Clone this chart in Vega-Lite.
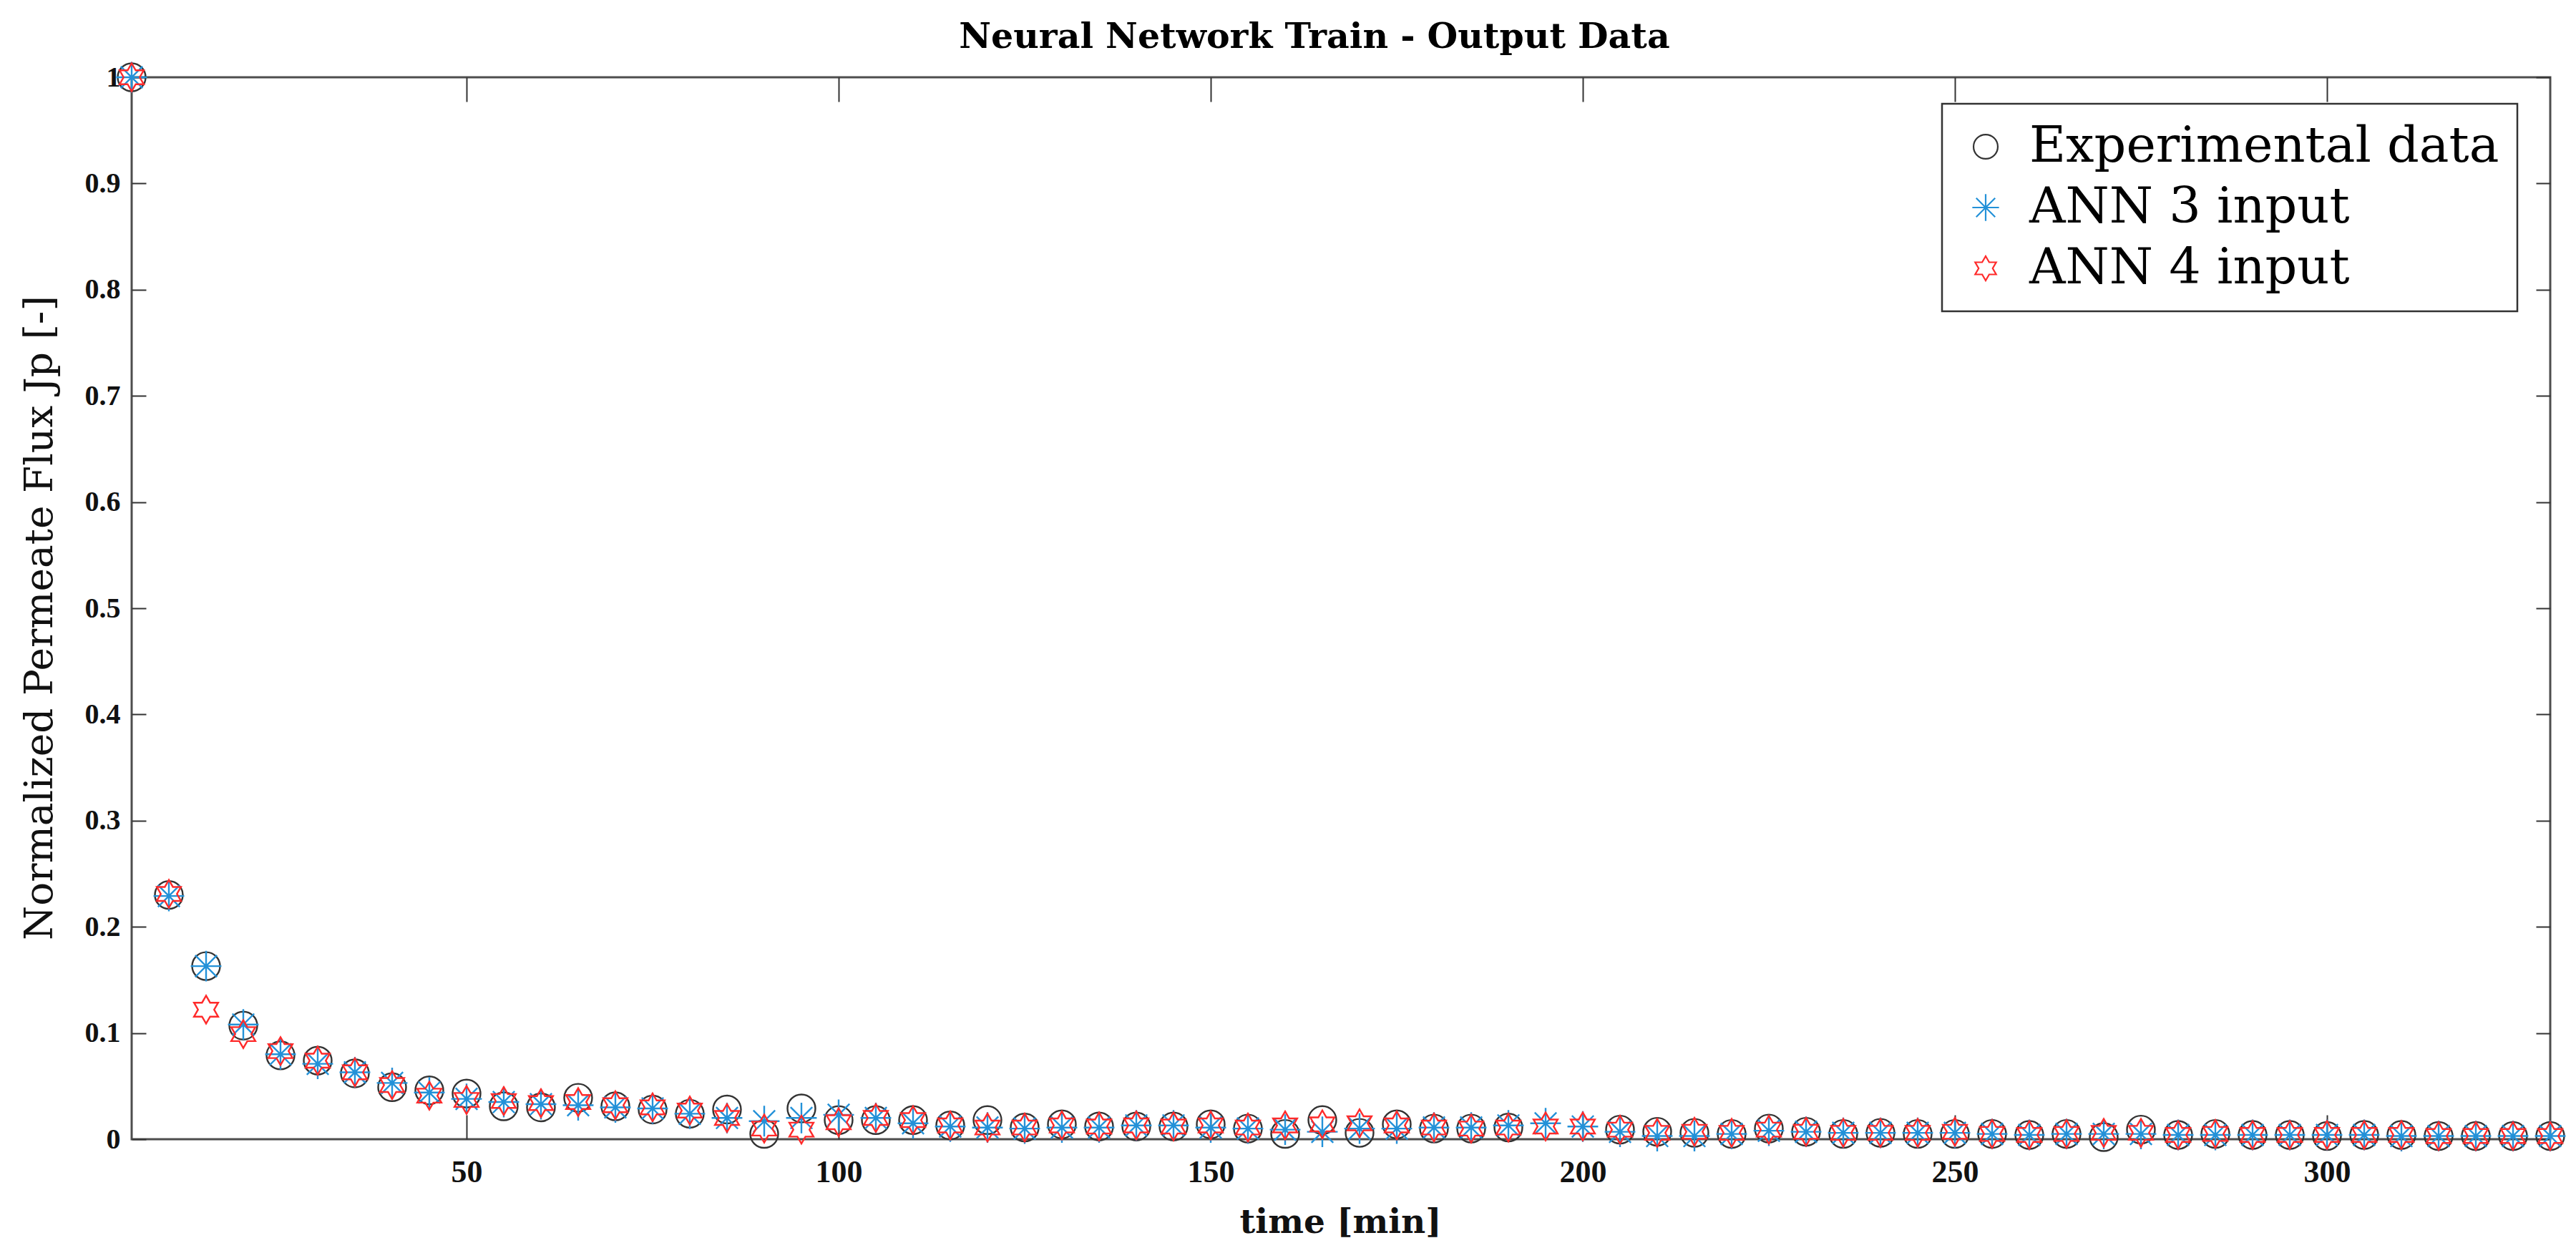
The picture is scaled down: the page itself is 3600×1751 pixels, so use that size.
{
  "$schema": "https://vega.github.io/schema/vega-lite/v6.json",
  "width": 3380,
  "height": 1484,
  "autosize": {"type": "none"},
  "padding": {"left": 184, "top": 108, "right": 36, "bottom": 159},
  "background": "white",
  "title": {
    "text": "Neural Network Train - Output Data",
    "font": "DejaVu Serif",
    "fontWeight": "bold",
    "fontSize": 49,
    "color": "#000000",
    "anchor": "middle",
    "dx": -37,
    "offset": 5
  },
  "data": {
    "values": [
      {"t": 5, "Experimental data": 1.0, "ANN 3 input": 1.0, "ANN 4 input": 1.0},
      {"t": 10, "Experimental data": 0.230, "ANN 3 input": 0.229, "ANN 4 input": 0.231},
      {"t": 15, "Experimental data": 0.163, "ANN 3 input": 0.163, "ANN 4 input": 0.122},
      {"t": 20, "Experimental data": 0.107, "ANN 3 input": 0.108, "ANN 4 input": 0.099},
      {"t": 25, "Experimental data": 0.079, "ANN 3 input": 0.080, "ANN 4 input": 0.083},
      {"t": 30, "Experimental data": 0.074, "ANN 3 input": 0.071, "ANN 4 input": 0.074},
      {"t": 35, "Experimental data": 0.062, "ANN 3 input": 0.063, "ANN 4 input": 0.063},
      {"t": 40, "Experimental data": 0.049, "ANN 3 input": 0.053, "ANN 4 input": 0.051},
      {"t": 45, "Experimental data": 0.046, "ANN 3 input": 0.044, "ANN 4 input": 0.041},
      {"t": 50, "Experimental data": 0.043, "ANN 3 input": 0.038, "ANN 4 input": 0.037},
      {"t": 55, "Experimental data": 0.031, "ANN 3 input": 0.035, "ANN 4 input": 0.036},
      {"t": 60, "Experimental data": 0.030, "ANN 3 input": 0.033, "ANN 4 input": 0.034},
      {"t": 65, "Experimental data": 0.039, "ANN 3 input": 0.032, "ANN 4 input": 0.035},
      {"t": 70, "Experimental data": 0.031, "ANN 3 input": 0.030, "ANN 4 input": 0.032},
      {"t": 75, "Experimental data": 0.028, "ANN 3 input": 0.029, "ANN 4 input": 0.030},
      {"t": 80, "Experimental data": 0.024, "ANN 3 input": 0.024, "ANN 4 input": 0.027},
      {"t": 85, "Experimental data": 0.028, "ANN 3 input": 0.020, "ANN 4 input": 0.020},
      {"t": 90, "Experimental data": 0.005, "ANN 3 input": 0.017, "ANN 4 input": 0.010},
      {"t": 95, "Experimental data": 0.029, "ANN 3 input": 0.020, "ANN 4 input": 0.009},
      {"t": 100, "Experimental data": 0.018, "ANN 3 input": 0.023, "ANN 4 input": 0.016},
      {"t": 105, "Experimental data": 0.018, "ANN 3 input": 0.020, "ANN 4 input": 0.020},
      {"t": 110, "Experimental data": 0.018, "ANN 3 input": 0.015, "ANN 4 input": 0.018},
      {"t": 115, "Experimental data": 0.013, "ANN 3 input": 0.012, "ANN 4 input": 0.013},
      {"t": 120, "Experimental data": 0.018, "ANN 3 input": 0.011, "ANN 4 input": 0.011},
      {"t": 125, "Experimental data": 0.011, "ANN 3 input": 0.010, "ANN 4 input": 0.011},
      {"t": 130, "Experimental data": 0.014, "ANN 3 input": 0.011, "ANN 4 input": 0.013},
      {"t": 135, "Experimental data": 0.012, "ANN 3 input": 0.011, "ANN 4 input": 0.012},
      {"t": 140, "Experimental data": 0.012, "ANN 3 input": 0.013, "ANN 4 input": 0.013},
      {"t": 145, "Experimental data": 0.012, "ANN 3 input": 0.013, "ANN 4 input": 0.012},
      {"t": 150, "Experimental data": 0.014, "ANN 3 input": 0.011, "ANN 4 input": 0.013},
      {"t": 155, "Experimental data": 0.010, "ANN 3 input": 0.010, "ANN 4 input": 0.011},
      {"t": 160, "Experimental data": 0.005, "ANN 3 input": 0.009, "ANN 4 input": 0.013},
      {"t": 165, "Experimental data": 0.018, "ANN 3 input": 0.007, "ANN 4 input": 0.014},
      {"t": 170, "Experimental data": 0.006, "ANN 3 input": 0.010, "ANN 4 input": 0.015},
      {"t": 175, "Experimental data": 0.014, "ANN 3 input": 0.010, "ANN 4 input": 0.013},
      {"t": 180, "Experimental data": 0.010, "ANN 3 input": 0.011, "ANN 4 input": 0.011},
      {"t": 185, "Experimental data": 0.010, "ANN 3 input": 0.011, "ANN 4 input": 0.010},
      {"t": 190, "Experimental data": 0.011, "ANN 3 input": 0.013, "ANN 4 input": 0.011},
      {"t": 195, "Experimental data": null, "ANN 3 input": 0.015, "ANN 4 input": 0.012},
      {"t": 200, "Experimental data": null, "ANN 3 input": 0.012, "ANN 4 input": 0.012},
      {"t": 205, "Experimental data": 0.009, "ANN 3 input": 0.007, "ANN 4 input": 0.009},
      {"t": 210, "Experimental data": 0.007, "ANN 3 input": 0.003, "ANN 4 input": 0.006},
      {"t": 215, "Experimental data": 0.006, "ANN 3 input": 0.003, "ANN 4 input": 0.007},
      {"t": 220, "Experimental data": 0.005, "ANN 3 input": 0.005, "ANN 4 input": 0.006},
      {"t": 225, "Experimental data": 0.010, "ANN 3 input": 0.008, "ANN 4 input": 0.009},
      {"t": 230, "Experimental data": 0.007, "ANN 3 input": 0.007, "ANN 4 input": 0.007},
      {"t": 235, "Experimental data": 0.005, "ANN 3 input": 0.006, "ANN 4 input": 0.006},
      {"t": 240, "Experimental data": 0.006, "ANN 3 input": 0.006, "ANN 4 input": 0.006},
      {"t": 245, "Experimental data": 0.005, "ANN 3 input": 0.006, "ANN 4 input": 0.006},
      {"t": 250, "Experimental data": 0.005, "ANN 3 input": 0.006, "ANN 4 input": 0.007},
      {"t": 255, "Experimental data": 0.005, "ANN 3 input": 0.005, "ANN 4 input": 0.005},
      {"t": 260, "Experimental data": 0.004, "ANN 3 input": 0.004, "ANN 4 input": 0.004},
      {"t": 265, "Experimental data": 0.005, "ANN 3 input": 0.005, "ANN 4 input": 0.005},
      {"t": 270, "Experimental data": 0.002, "ANN 3 input": 0.005, "ANN 4 input": 0.006},
      {"t": 275, "Experimental data": 0.009, "ANN 3 input": 0.005, "ANN 4 input": 0.006},
      {"t": 280, "Experimental data": 0.004, "ANN 3 input": 0.004, "ANN 4 input": 0.004},
      {"t": 285, "Experimental data": 0.005, "ANN 3 input": 0.004, "ANN 4 input": 0.005},
      {"t": 290, "Experimental data": 0.004, "ANN 3 input": 0.004, "ANN 4 input": 0.004},
      {"t": 295, "Experimental data": 0.004, "ANN 3 input": 0.004, "ANN 4 input": 0.004},
      {"t": 300, "Experimental data": 0.003, "ANN 3 input": 0.004, "ANN 4 input": 0.004},
      {"t": 305, "Experimental data": 0.004, "ANN 3 input": 0.004, "ANN 4 input": 0.004},
      {"t": 310, "Experimental data": 0.004, "ANN 3 input": 0.003, "ANN 4 input": 0.004},
      {"t": 315, "Experimental data": 0.003, "ANN 3 input": 0.003, "ANN 4 input": 0.003},
      {"t": 320, "Experimental data": 0.003, "ANN 3 input": 0.003, "ANN 4 input": 0.003},
      {"t": 325, "Experimental data": 0.003, "ANN 3 input": 0.003, "ANN 4 input": 0.003},
      {"t": 330, "Experimental data": 0.003, "ANN 3 input": 0.003, "ANN 4 input": 0.003}
    ]
  },
  "transform": [
    {"fold": ["Experimental data", "ANN 3 input", "ANN 4 input"], "as": ["series", "v"]},
    {"filter": "isValid(datum.v)"}
  ],
  "layer": [
    {
      "mark": {"type": "point", "filled": false, "size": 1520, "strokeWidth": 2.4, "opacity": 1},
      "encoding": {
        "x": {
          "field": "t", "type": "quantitative",
          "scale": {"domain": [5, 330], "nice": false, "zero": false},
          "axis": {
            "orient": "bottom",
            "values": [50, 100, 150, 200, 250, 300],
            "format": "d",
            "tickSize": -34,
            "labelPadding": 58,
            "labelFontSize": 44,
            "title": "time [min]",
            "titleFont": "DejaVu Serif",
            "titleFontWeight": "bold",
            "titleFontSize": 47,
            "titleColor": "#111111",
            "titleX": 1689,
            "titleY": 116,
            "titleBaseline": "middle",
            "titleAlign": "center"
          }
        },
        "y": {
          "field": "v", "type": "quantitative",
          "scale": {"domain": [0, 1], "nice": false, "zero": false},
          "axis": {
            "orient": "left",
            "values": [0, 0.1, 0.2, 0.3, 0.4, 0.5, 0.6, 0.7, 0.8, 0.9, 1],
            "format": "~g",
            "tickSize": -20,
            "labelPadding": 36,
            "title": "Normalized Permeate Flux Jp [-]",
            "titleFont": "DejaVu Serif",
            "titleFontWeight": "normal",
            "titleFontSize": 55,
            "titleColor": "#111111",
            "titleAngle": -90,
            "titleX": -129,
            "titleY": 755,
            "titleBaseline": "middle",
            "titleAlign": "center"
          }
        },
        "shape": {
          "field": "series", "type": "nominal",
          "scale": {
            "domain": ["Experimental data", "ANN 3 input", "ANN 4 input"],
            "range": [
              "circle",
              "M0,-1.1L0,1.1M-1.1,0L1.1,0M-0.78,-0.78L0.78,0.78M-0.78,0.78L0.78,-0.78",
              "M0,-1L0.289,-0.5L0.866,-0.5L0.577,0L0.866,0.5L0.289,0.5L0,1L-0.289,0.5L-0.866,0.5L-0.577,0L-0.866,-0.5L-0.289,-0.5Z"
            ]
          },
          "legend": {"orient": "none", "legendX": 2530, "legendY": 37, "title": null}
        },
        "color": {
          "field": "series", "type": "nominal",
          "scale": {
            "domain": ["Experimental data", "ANN 3 input", "ANN 4 input"],
            "range": ["#333333", "#2391d8", "#ff2a2a"]
          },
          "legend": {"orient": "none", "legendX": 2530, "legendY": 37, "title": null}
        }
      }
    },
    {
      "mark": {"type": "point", "opacity": 0},
      "encoding": {
        "x": {
          "field": "t", "type": "quantitative",
          "axis": {"orient": "top", "labels": false, "title": null, "values": [50, 100, 150, 200, 250, 300], "tickSize": -34}
        },
        "y": {
          "field": "v", "type": "quantitative",
          "axis": {"orient": "right", "labels": false, "title": null, "values": [0, 0.1, 0.2, 0.3, 0.4, 0.5, 0.6, 0.7, 0.8, 0.9, 1], "tickSize": -20}
        }
      }
    }
  ],
  "resolve": {"axis": {"x": "independent", "y": "independent"}},
  "config": {
    "view": {"stroke": "#4d4d4d", "strokeWidth": 3},
    "axis": {
      "domain": false,
      "grid": false,
      "ticks": true,
      "tickColor": "#333333",
      "tickWidth": 2,
      "labelFont": "Liberation Serif",
      "labelFontWeight": "bold",
      "labelFontSize": 40,
      "labelColor": "#111111"
    },
    "legend": {
      "padding": 25,
      "symbolOffset": 1,
      "labelOffset": 26,
      "rowPadding": 15,
      "labelFont": "DejaVu Serif",
      "labelFontSize": 70,
      "labelColor": "#000000",
      "labelLimit": 1000,
      "symbolSize": 1150,
      "symbolStrokeWidth": 2.2,
      "strokeColor": "#333333",
      "fillColor": "white",
      "cornerRadius": 0,
      "strokeWidth": 2.5
    }
  }
}
